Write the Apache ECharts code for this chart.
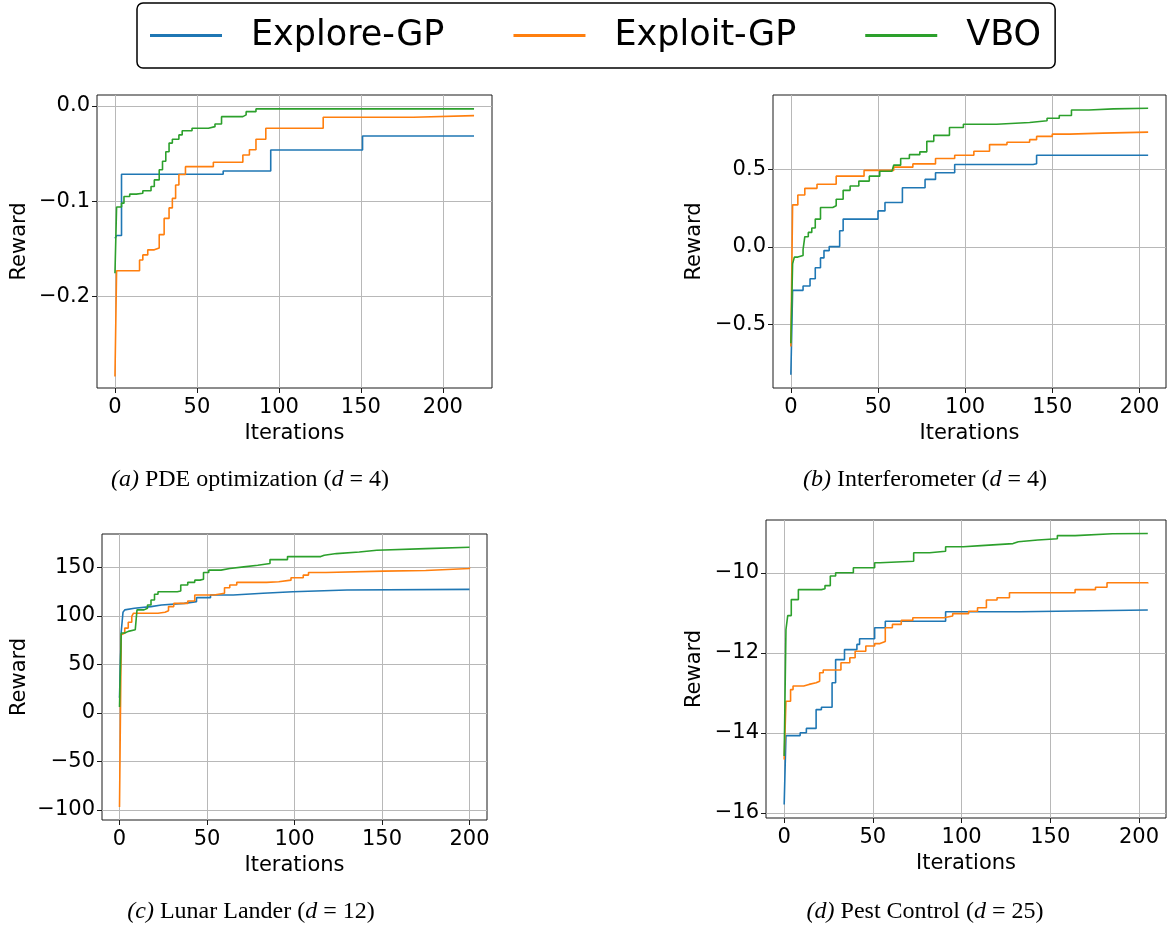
<!DOCTYPE html>
<html>
<head>
<meta charset="utf-8">
<script src="https://cdn.jsdelivr.net/npm/echarts@6/dist/echarts.min.js"></script>
<style>
html,body{margin:0;padding:0;background:#fff;}
#chart{width:1169px;height:926px;}
</style>
</head>
<body>
<div id="chart"></div>
<script>
// ---------- data (iteration, reward) breakpoints of the best-so-far curves ----------
const seriesNames = ['Explore-GP', 'Exploit-GP', 'VBO'];
const seriesColors = ['#1f77b4', '#ff7f0e', '#2ca02c'];

// (a) PDE optimization
const pdeExplore = [[0,-0.139],[1,-0.136],[4,-0.0717],[66,-0.0682],[95,-0.0462],[151,-0.0315],[219,-0.0315]];
const pdeExploit = [[0,-0.284],[1,-0.173],[15,-0.1616],[17,-0.1563],[20,-0.151],[24,-0.149],[27,-0.135],[30,-0.118],[33,-0.107],[35,-0.097],[37,-0.083],[39,-0.072],[43,-0.0637],[60,-0.059],[78,-0.0514],[82,-0.046],[86,-0.035],[92,-0.0234],[127,-0.0119],[182,-0.0101],[219,-0.0101]];
const pdeVBO = [[0,-0.1756],[1,-0.106],[4,-0.102],[5.5,-0.095],[9,-0.0925],[13,-0.0916],[17,-0.089],[22,-0.0846],[24,-0.0776],[27,-0.067],[29,-0.058],[31,-0.048],[33,-0.039],[35,-0.035],[39,-0.0304],[41,-0.026],[47,-0.0234],[57,-0.0217],[61,-0.019],[65,-0.0112],[78,-0.0094],[80,-0.006],[86,-0.0031],[219,-0.0035]];

// (b) Interferometer
const interfExplore = [[0,-0.827],[1,-0.281],[7,-0.253],[11,-0.206],[14,-0.135],[17,-0.071],[19,-0.024],[22,0.002],[28,0.105],[30,0.18],[50,0.233],[54,0.287],[64,0.383],[77,0.437],[83,0.48],[94,0.533],[139,0.538],[141,0.593],[205,0.593]];
const interfExploit = [[0,-0.645],[1,0.272],[4,0.336],[8,0.379],[15,0.405],[26,0.458],[42,0.495],[59,0.516],[70,0.537],[83,0.572],[94,0.593],[105,0.619],[114,0.662],[124,0.677],[137,0.694],[141,0.715],[150,0.73],[160,0.736],[179,0.743],[205,0.743]];
const interfVBO = [[0,-0.623],[1,-0.109],[2,-0.066],[4,-0.055],[7,-0.017],[8,0.066],[10,0.094],[12,0.122],[14,0.18],[17,0.255],[24,0.266],[26,0.308],[30,0.366],[34,0.394],[39,0.426],[45,0.458],[51,0.49],[58,0.5],[59,0.529],[63,0.572],[68,0.597],[74,0.615],[78,0.683],[82,0.722],[91,0.773],[99,0.794],[118,0.805],[137,0.816],[147,0.833],[154,0.85],[161,0.886],[171,0.893],[185,0.897],[205,0.897]];

// (c) Lunar Lander
const lunarExplore = [[0,15.7],[1,84],[2,103.9],[3,106.3],[4,108],[8.5,109.7],[18,111.4],[24,113],[37,114.8],[44,118.9],[52,121.7],[65,123.4],[82,125],[99,126.8],[130,127.5],[200,128.2]];
const lunarExploit = [[0,-97],[1,80.7],[2,82.4],[3,87.5],[5,93.6],[7,99.5],[8,102.9],[22,103.9],[26,105.3],[28,109.7],[31,113],[39,115.5],[43,121.7],[54,123.4],[60,129.2],[63,131.9],[67,134.7],[84,135.3],[91,137],[98,139.4],[105,142.2],[108,144.9],[118,146.3],[151,147],[175,149],[200,150]];
const lunarVBO = [[0,6.2],[1,82.4],[3,84.1],[5,85.8],[9,86.5],[10,106.3],[14,108],[16,111.4],[18,116.5],[20,122.4],[22,125],[33,125.8],[35,131.9],[39,134.7],[43,137],[46,138],[48,144.9],[51,147.3],[58,149],[63,150.7],[71,152.4],[79,154.1],[86,158.2],[96,161.3],[115,162.7],[117,164.4],[124,166.1],[137,167.8],[147,169.5],[175,170.9],[200,170.9]];

// (d) Pest Control
const pestExplore = [[0,-15.79],[1,-14.07],[9,-14.0],[12.5,-13.89],[18,-13.42],[21,-13.36],[27,-12.75],[29,-12.17],[34,-11.92],[41,-11.79],[42.5,-11.65],[51,-11.375],[57,-11.21],[91,-10.975],[133,-10.93],[205,-10.93]];
const pestExploit = [[0,-14.67],[1,-13.21],[3.6,-12.92],[5,-12.83],[11,-12.79],[14,-12.75],[18,-12.71],[20,-12.5],[22,-12.43],[32,-12.25],[37,-12.125],[40,-11.96],[46,-11.83],[51,-11.77],[54,-11.72],[57,-11.375],[61,-11.29],[66,-11.19],[72.5,-11.125],[90,-11.08],[95,-11.02],[104,-10.96],[109,-10.875],[114,-10.68],[120,-10.625],[127,-10.5],[151,-10.5],[164,-10.42],[175.5,-10.36],[182,-10.25],[205,-10.27]];
const pestVBO = [[0,-14.58],[1,-11.42],[2,-11.07],[4,-10.67],[8,-10.42],[21,-10.4],[23,-10.32],[26,-10.08],[29,-10.0],[39,-9.875],[51,-9.75],[54,-9.71],[73,-9.5],[82,-9.46],[91,-9.35],[101,-9.32],[111,-9.27],[129,-9.225],[132,-9.18],[143,-9.15],[154,-9.07],[164,-9.025],[185,-9.017],[205,-9.025]];

// tick labels
const xTicks = [0, 50, 100, 150, 200];
const pdeYTicks = [-0.2, -0.1, 0.0];
const interfYTicks = [-0.5, 0.0, 0.5];
const lunarYTicks = [-100, -50, 0, 50, 100, 150];
const pestYTicks = [-16, -14, -12, -10];

const captions = [
  '{i|(a)} PDE optimization ({i|d} = 4)',
  '{i|(b)} Interferometer ({i|d} = 4)',
  '{i|(c)} Lunar Lander ({i|d} = 12)',
  '{i|(d)} Pest Control ({i|d} = 25)'
];

// ---------- layout ----------
const panels = [
  {data:[pdeExplore,pdeExploit,pdeVBO], yTicks:pdeYTicks, dec:1,
   grid:{left:97, top:95, width:395, height:293}, xMin:-10.95, xMax:229.95, yMin:-0.296, yMax:0.0115, yGap:67, cap:[250,480]},
  {data:[interfExplore,interfExploit,interfVBO], yTicks:interfYTicks, dec:1,
   grid:{left:773, top:95, width:393, height:293}, xMin:-10.25, xMax:215.25, yMin:-0.913, yMax:0.983, yGap:68, cap:[925,480]},
  {data:[lunarExplore,lunarExploit,lunarVBO], yTicks:lunarYTicks, dec:0,
   grid:{left:102, top:534, width:385, height:286}, xMin:-10, xMax:210, yMin:-110.5, yMax:184.6, yGap:72, cap:[251,912]},
  {data:[pestExplore,pestExploit,pestVBO], yTicks:pestYTicks, dec:0,
   grid:{left:766, top:520, width:400, height:298}, xMin:-10.25, xMax:215.25, yMin:-16.13, yMax:-8.68, yGap:61, cap:[925,912]}
];

const FONT = 'DejaVu Sans';
const FS = 21;
const fmt = (dec) => (v) => Number(v).toFixed(dec).replace('-', '\u2212');

const grids = [], xAxes = [], yAxes = [], series = [], graphics = [];
panels.forEach((p, i) => {
  grids.push(Object.assign({show:true, borderColor:'#1a1a1a', borderWidth:1, backgroundColor:'transparent'}, p.grid));
  xAxes.push({
    gridIndex:i, type:'value', min:p.xMin, max:p.xMax, position:'bottom',
    axisLine:{show:false, onZero:false},
    axisTick:{show:true, inside:false, length:5, lineStyle:{color:'#1a1a1a', width:1}, customValues:xTicks},
    axisLabel:{customValues:xTicks, margin:9, fontSize:FS, color:'#000', fontFamily:FONT, formatter:fmt(0)},
    splitLine:{show:true, lineStyle:{color:'#b8b8b8', width:1}},
    name:'Iterations', nameLocation:'middle', nameGap:35,
    nameTextStyle:{fontSize:FS, color:'#000', fontFamily:FONT}
  });
  yAxes.push({
    gridIndex:i, type:'value', min:p.yMin, max:p.yMax, position:'left',
    axisLine:{show:false, onZero:false},
    axisTick:{show:true, inside:false, length:5, lineStyle:{color:'#1a1a1a', width:1}, customValues:p.yTicks},
    axisLabel:{customValues:p.yTicks, margin:7, fontSize:FS, color:'#000', fontFamily:FONT, formatter:fmt(p.dec)},
    splitLine:{show:true, lineStyle:{color:'#b8b8b8', width:1}},
    name:'Reward', nameLocation:'middle', nameGap:p.yGap, nameRotate:90,
    nameTextStyle:{fontSize:FS, color:'#000', fontFamily:FONT}
  });
  p.data.forEach((d, k) => {
    series.push({
      type:'line', name:seriesNames[k], xAxisIndex:i, yAxisIndex:i,
      data:d, step:'end', symbol:'none', showSymbol:false,
      lineStyle:{color:seriesColors[k], width:1.6},
      itemStyle:{color:seriesColors[k]},
      z:2+k, animation:false
    });
  });
  graphics.push({
    type:'text', x:p.cap[0], y:p.cap[1],
    style:{
      text:captions[i], fill:'#000', fontSize:24, fontFamily:'Liberation Serif',
      align:'center', verticalAlign:'middle',
      rich:{i:{fontStyle:'italic', fontSize:24, fontFamily:'Liberation Serif', fill:'#000'}}
    }
  });
});

const chart = echarts.init(document.getElementById('chart'), null, {renderer:'canvas'});
chart.setOption({
  backgroundColor:'#fff',
  animation:false,
  legend:{
    data:seriesNames.map((n, k) => ({name:n, icon:'rect', itemStyle:{color:seriesColors[k]}})),
    left:137, top:3, orient:'horizontal',
    padding:[14,14,14,13], itemWidth:72, itemHeight:3, itemGap:69,
    borderColor:'#000', borderWidth:1.5, borderRadius:6,
    textStyle:{fontSize:35, fontFamily:FONT, color:'#000', padding:[0,0,0,24], lineHeight:37}
  },
  grid:grids, xAxis:xAxes, yAxis:yAxes, series:series, graphic:graphics
});
</script>
</body>
</html>
